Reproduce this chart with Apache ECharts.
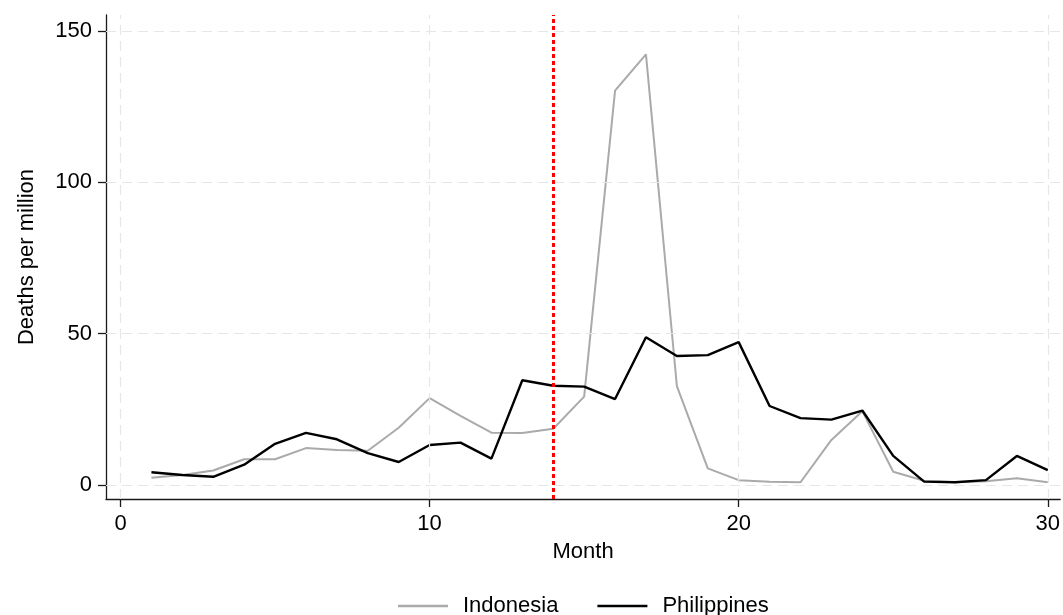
<!DOCTYPE html>
<html>
<head>
<meta charset="utf-8">
<script src="https://cdn.jsdelivr.net/npm/echarts@6/dist/echarts.min.js"></script>
<style>
  html, body { margin: 0; padding: 0; background: #fff; }
  #chart { width: 1063px; height: 615px; }
</style>
</head>
<body>
<div id="chart"></div>
<script>
// Monthly deaths per million, months 1..30
const months = [1,2,3,4,5,6,7,8,9,10,11,12,13,14,15,16,17,18,19,20,21,22,23,24,25,26,27,28,29,30];
const indonesia = [2.4,3.3,4.8,8.5,8.5,12.2,11.6,11.3,18.9,28.7,22.8,17.3,17.2,18.6,29.2,130.3,142.3,32.7,5.5,1.6,1.1,0.9,14.9,24.4,4.4,1.4,0.9,1.2,2.2,0.9];
const philippines = [4.2,3.3,2.7,6.7,13.6,17.2,15.1,10.5,7.6,13.2,14.0,8.7,34.6,32.8,32.5,28.4,48.8,42.6,42.9,47.2,26.1,22.1,21.6,24.6,9.6,1.1,0.9,1.6,9.6,4.9];
const xTicks = [0, 10, 20, 30];
const yTicks = [0, 50, 100, 150];
const cutoffMonth = 14;

const font = '"Liberation Sans", Arial, Helvetica, sans-serif';
const pair = (xs, ys) => xs.map((x, i) => [x, ys[i]]);

const chart = echarts.init(document.getElementById('chart'), null, { renderer: 'canvas' });

const gridStyle = { color: '#e6e6e6', width: 1.2, type: [10, 6] };
const axisColor = '#1a1a1a';

chart.setOption({
  animation: false,
  backgroundColor: '#ffffff',
  textStyle: { fontFamily: font },
  grid: { left: 106, right: 0, top: 15, bottom: 116, containLabel: false },
  legend: {
    top: 590,
    left: 393,
    icon: 'rect',
    itemWidth: 50,
    itemHeight: 2.5,
    itemGap: 39,
    textStyle: { fontFamily: font, fontSize: 22, color: '#000', padding: [0, 0, 0, 10] },
    data: ['Indonesia', 'Philippines']
  },
  xAxis: {
    type: 'value',
    min: -0.47,
    max: 30.4,
    name: 'Month',
    nameLocation: 'middle',
    nameGap: 42,
    nameTextStyle: { fontFamily: font, fontSize: 22, color: '#000' },
    axisLine: { show: true, onZero: false, lineStyle: { color: axisColor, width: 1.3 } },
    axisTick: { show: true, length: 8, customValues: xTicks, lineStyle: { color: axisColor, width: 1.3 } },
    axisLabel: { customValues: xTicks, margin: 14, fontSize: 22, color: '#000', fontFamily: font },
    splitLine: { show: false }
  },
  yAxis: {
    type: 'value',
    min: -4.63,
    max: 155.3,
    name: 'Deaths per million',
    nameLocation: 'middle',
    nameGap: 68,
    nameRotate: 90,
    nameTextStyle: { fontFamily: font, fontSize: 22, color: '#000' },
    axisLine: { show: true, onZero: false, lineStyle: { color: axisColor, width: 1.3 } },
    axisTick: { show: true, length: 8, customValues: yTicks, lineStyle: { color: axisColor, width: 1.3 } },
    axisLabel: { customValues: yTicks, margin: 14, fontSize: 22, color: '#000', fontFamily: font },
    splitLine: { show: false }
  },
  series: [
    {
      // dashed reference grid
      type: 'line',
      name: 'grid',
      data: [],
      silent: true,
      markLine: {
        silent: true,
        symbol: ['none', 'none'],
        label: { show: false },
        lineStyle: gridStyle,
        data: xTicks.map(v => ({ xAxis: v })).concat(yTicks.map(v => ({ yAxis: v })))
      }
    },
    {
      name: 'Indonesia',
      type: 'line',
      data: pair(months, indonesia),
      symbol: 'none',
      lineStyle: { color: '#aaaaaa', width: 2 },
      itemStyle: { color: '#aaaaaa' },
      z: 3
    },
    {
      name: 'Philippines',
      type: 'line',
      data: pair(months, philippines),
      symbol: 'none',
      lineStyle: { color: '#000000', width: 2.4 },
      itemStyle: { color: '#000000' },
      z: 4,
      markLine: {
        silent: true,
        symbol: ['none', 'none'],
        label: { show: false },
        lineStyle: { color: '#ff0000', width: 3, type: [4, 3] },
        data: [{ xAxis: cutoffMonth }]
      }
    }
  ]
});
</script>
</body>
</html>
